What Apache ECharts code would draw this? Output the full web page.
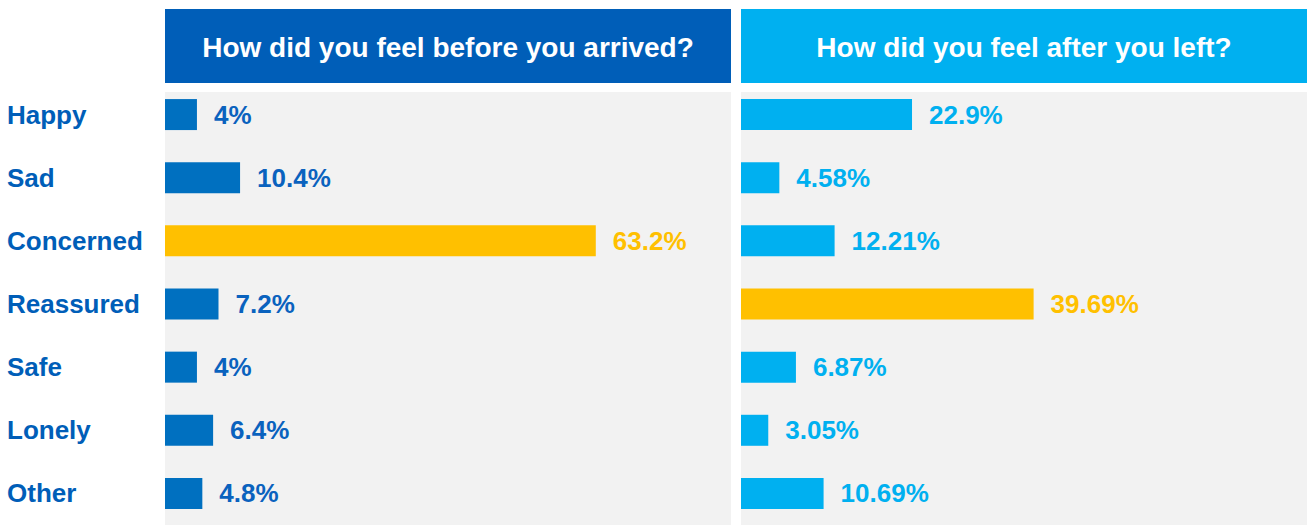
<!DOCTYPE html>
<html>
<head>
<meta charset="utf-8">
<script src="https://cdn.jsdelivr.net/npm/echarts@6/dist/echarts.min.js"></script>
<style>
    html, body {
        margin: 0;
        padding: 0;
        background: #fff;
    }
    #chart {
        width: 1310px;
        height: 525px;
    }
</style>
</head>
<body>
<div id="chart"></div>
<script>
// 数据
const categories = ['Happy', 'Sad', 'Concerned', 'Reassured', 'Safe', 'Lonely', 'Other'];
const beforeValues = [4, 10.4, 63.2, 7.2, 4, 6.4, 4.8];
const afterValues = [22.9, 4.58, 12.21, 39.69, 6.87, 3.05, 10.69];
const headers = ['How did you feel before you arrived?', 'How did you feel after you left?'];
const beforeHighlight = 'Concerned';
const afterHighlight = 'Reassured';

const font = '"Liberation Sans", Arial, sans-serif';
const yellow = '#FFC000';

// 高亮的那一条用黄色
function toItems(values, highlight) {
    return values.map((v, i) => {
        if (categories[i] !== highlight) return v;
        return {
            value: v,
            itemStyle: { color: yellow },
            label: { color: yellow }
        };
    });
}

function panel(x, w, color, text) {
    return [
        // 灰色底
        { type: 'rect', shape: { x: x, y: 92, width: w, height: 433 }, style: { fill: '#F2F2F2' }, z: -10 },
        // 标题栏
        { type: 'rect', shape: { x: x, y: 9, width: w, height: 74 }, style: { fill: color }, z: -10 },
        {
            type: 'text', z: 5,
            style: {
                text: text, x: x + w / 2, y: 47,
                fill: '#fff', font: 'bold 28px ' + font,
                align: 'center', verticalAlign: 'middle'
            }
        }
    ];
}

let mycharts = echarts.init(document.getElementById('chart'), null, { renderer: 'svg' });
mycharts.setOption({
    animation: false,
    graphic: [].concat(
        panel(165, 566, '#005EB8', headers[0]),
        panel(741, 566, '#00B0F0', headers[1])
    ),
    grid: [
        { left: 165, top: 83, width: 566, height: 446 },
        { left: 741, top: 83, width: 566, height: 446 }
    ],
    xAxis: [
        // 柱子从 startValue 开始画（原图柱子比比例略长一点）
        { type: 'value', gridIndex: 0, min: -0.742, max: 83.27, startValue: -0.742, show: false },
        { type: 'value', gridIndex: 1, min: -0.715, max: 77.44, startValue: -0.715, show: false }
    ],
    yAxis: [
        {
            type: 'category', gridIndex: 0, inverse: true, data: categories,
            axisLine: { show: false },
            axisTick: { show: false },
            splitLine: { show: false },
            axisLabel: {
                align: 'left',
                margin: 158,
                color: '#005EB8',
                fontFamily: font,
                fontWeight: 'bold',
                fontSize: 26
            }
        },
        {
            type: 'category', gridIndex: 1, inverse: true, data: categories,
            axisLine: { show: false },
            axisTick: { show: false },
            splitLine: { show: false },
            axisLabel: { show: false }
        }
    ],
    series: [
        {
            type: 'bar',
            xAxisIndex: 0,
            yAxisIndex: 0,
            barWidth: 31,
            itemStyle: { color: '#0070C0' },
            label: {
                show: true,
                position: 'right',
                distance: 17,
                formatter: '{c}%',
                color: '#0A62BE',
                fontFamily: font,
                fontWeight: 'bold',
                fontSize: 26
            },
            data: toItems(beforeValues, beforeHighlight)
        },
        {
            type: 'bar',
            xAxisIndex: 1,
            yAxisIndex: 1,
            barWidth: 31,
            itemStyle: { color: '#00B0F0' },
            label: {
                show: true,
                position: 'right',
                distance: 17,
                formatter: '{c}%',
                color: '#00B0F0',
                fontFamily: font,
                fontWeight: 'bold',
                fontSize: 26
            },
            data: toItems(afterValues, afterHighlight)
        }
    ]
});
</script>
</body>
</html>
